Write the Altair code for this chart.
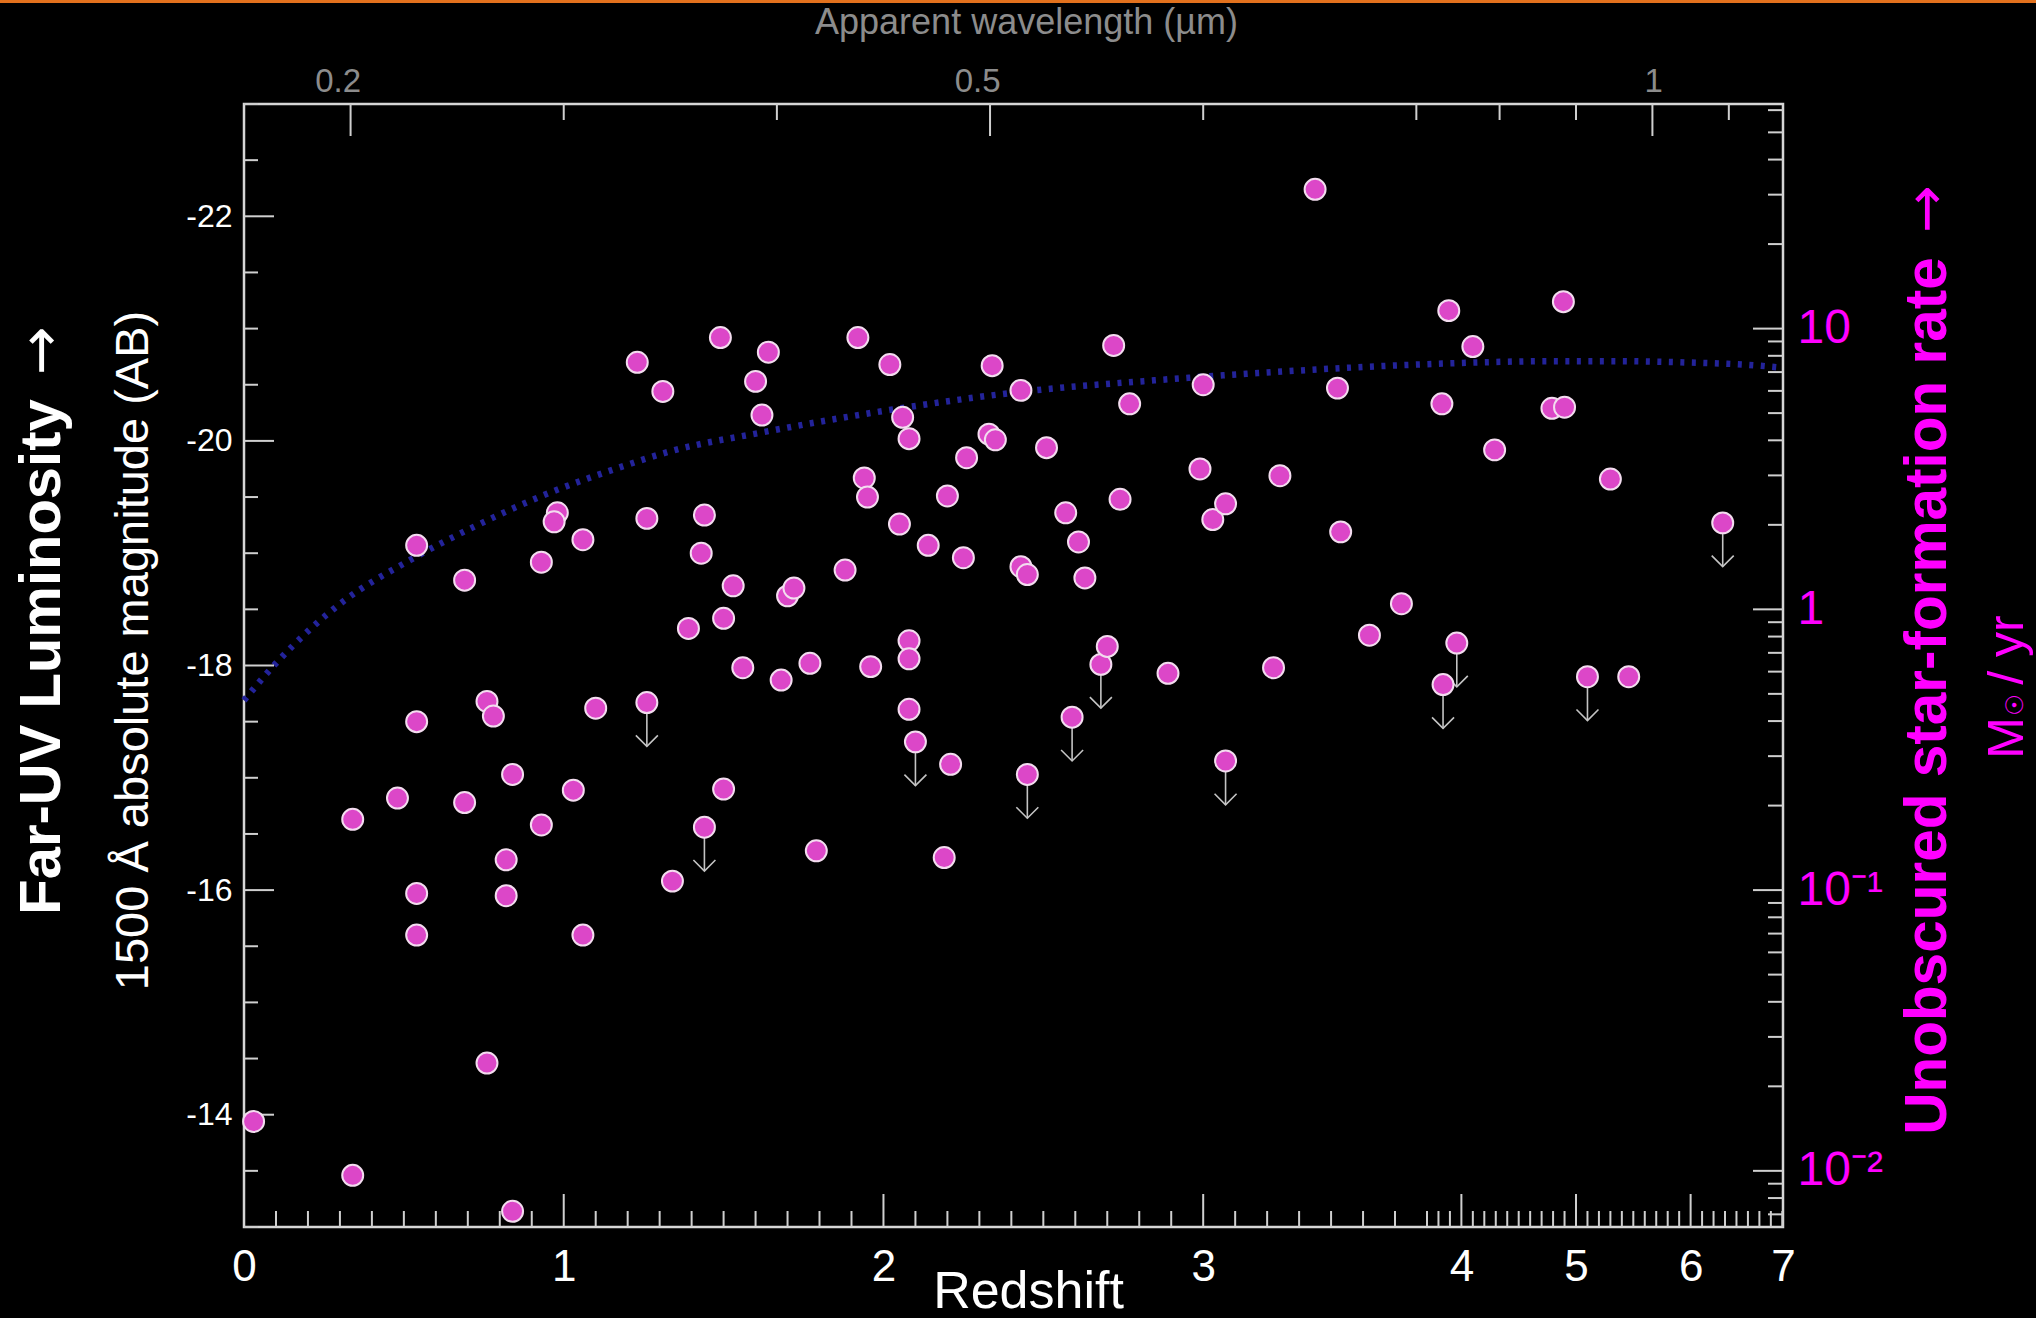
import altair as alt
import pandas as pd
import math

# ---------------- data ----------------
gal_z = [0.03, 0.34, 0.84, 0.34, 0.48, 0.54, 0.54, 0.54, 0.54, 0.69,
         0.69, 0.76, 0.78, 0.76, 0.82, 0.82, 0.84, 0.93, 0.93, 0.98,
         0.97, 1.06, 1.03, 1.06, 1.10, 1.23, 1.31, 1.26, 1.26, 1.34,
         1.39, 1.44, 1.43, 1.44, 1.49, 1.50, 1.50, 1.53, 1.56, 1.60,
         1.64, 1.62, 1.68, 1.70, 1.72, 1.77, 1.79, 1.88, 1.92, 1.94,
         1.95, 1.96, 2.02, 2.06, 2.08, 2.05, 2.08, 2.08, 2.08, 2.10,
         2.14, 2.20, 2.21, 2.19, 2.25, 2.26, 2.33, 2.35, 2.34, 2.43,
         2.43, 2.45, 2.45, 2.51, 2.57, 2.59, 2.61, 2.63, 2.68, 2.70,
         2.72, 2.77, 2.74, 2.89, 2.99, 3.00, 3.03, 3.07, 3.07, 3.22,
         3.24, 3.35, 3.42, 3.43, 3.52, 3.62, 3.83, 3.84, 3.89, 3.96,
         4.10, 4.29, 4.79, 4.89, 4.90, 5.10, 5.30, 5.46, 6.28]
gal_m = [-13.94, -13.46, -13.14, -16.63, -16.82, -17.50, -19.07, -15.97, -15.60, -18.76,
         -16.78, -17.68, -17.55, -14.46, -16.27, -15.95, -17.03, -16.58, -18.92, -19.36,
         -19.28, -19.12, -16.89, -15.60, -17.62, -20.70, -20.44, -19.31, -17.67, -16.08,
         -18.33, -19.34, -19.00, -16.56, -20.92, -18.42, -16.90, -18.71, -17.98, -20.53,
         -20.79, -20.23, -17.87, -18.62, -18.69, -18.02, -16.35, -18.85, -20.92, -19.67,
         -19.50, -17.99, -20.68, -20.21, -20.02, -19.26, -18.22, -18.06, -17.61, -17.32,
         -19.07, -19.51, -17.12, -16.29, -18.96, -19.85, -20.06, -20.01, -20.67, -20.45,
         -18.88, -18.81, -17.03, -19.94, -19.36, -17.54, -19.10, -18.78, -18.01, -18.17,
         -20.85, -20.33, -19.48, -17.93, -19.75, -20.50, -19.30, -19.44, -17.15, -17.98,
         -19.69, -22.24, -20.47, -19.19, -18.27, -18.55, -20.33, -17.83, -21.16, -18.20,
         -20.84, -19.92, -20.29, -21.24, -20.30, -17.90, -19.66, -17.90, -19.27]
gal_limit = [0, 0, 0, 0, 0, 0, 0, 0, 0, 0,
             0, 0, 0, 0, 0, 0, 0, 0, 0, 0,
             0, 0, 0, 0, 0, 0, 0, 0, 1, 0,
             0, 0, 0, 1, 0, 0, 0, 0, 0, 0,
             0, 0, 0, 0, 0, 0, 0, 0, 0, 0,
             0, 0, 0, 0, 0, 0, 0, 0, 0, 1,
             0, 0, 0, 0, 0, 0, 0, 0, 0, 0,
             0, 0, 1, 0, 0, 1, 0, 0, 1, 0,
             0, 0, 0, 0, 0, 0, 0, 0, 1, 0,
             0, 0, 0, 0, 0, 0, 0, 1, 0, 1,
             0, 0, 0, 0, 0, 1, 0, 0, 1]

curve_z = [0.0, 0.10, 0.31, 0.52, 0.73, 0.94, 1.15, 1.35, 1.61, 2.03,
           2.44, 2.85, 3.26, 3.67, 4.19, 4.76, 5.33, 5.91, 6.60, 6.81]
curve_m = [-17.69, -18.02, -18.57, -18.94, -19.25, -19.52, -19.74, -19.92, -20.07, -20.28,
           -20.44, -20.54, -20.62, -20.68, -20.70, -20.71, -20.71, -20.70, -20.67, -20.65]

z_label_pos = [0, 1, 2, 3, 4, 5, 6, 6.806]      # last position is labelled "7"
mag_labels = [-22, -20, -18, -16, -14]
lam_major = [0.2, 0.5, 1.0]
lam_minor = [0.3, 0.4, 0.6, 0.7, 0.8, 0.9, 1.1]
sfr_major = [10, 1, 0.1, 0.01]
sfr_minor_mult = [2, 3, 4, 5, 6, 7, 8, 9]
sfr_minor_exp = [-3, -2, -1, 0, 1]


# ---------------- conversions ----------------
def lam_to_z(l):
    return l / 0.15 - 1.0


def sfr_to_mag(s):
    return -21.0 - 2.5 * math.log10(s / 10.0)


W, H = 1539, 1123
FONT = "Liberation Sans"
TICK = "#cfcfcf"
MAGENTA = "#ff00ff"

xs = alt.Scale(domain=[0, 3.7, 6.806], range=[0, 1183, W], nice=False, zero=False)
ys = alt.Scale(domain=[-13, -23], nice=False, zero=False)

gal = pd.DataFrame({"z": gal_z, "m": gal_m, "lim": gal_limit})
lim = gal[gal["lim"] == 1].copy()
curve = pd.DataFrame({"z": curve_z, "m": curve_m})

z_minor = [round(i / 10, 1) for i in range(1, 69) if i % 10 != 0]
z_major = [1, 2, 3, 4, 5, 6]
mag_minor = [m / 2 for m in range(-46, -25) if m % 4 != 0]
mag_major = mag_labels
sfr_minor = [k * 10 ** e for e in sfr_minor_exp for k in sfr_minor_mult]
sfr_minor_m = [sfr_to_mag(s) for s in sfr_minor if -23 <= sfr_to_mag(s) <= -13]
sfr_major_m = [sfr_to_mag(s) for s in sfr_major]

bottom_axis = alt.Axis(
    orient="bottom", values=z_label_pos,
    labelExpr="datum.value > 6.5 ? '7' : datum.label",
    ticks=False, tickSize=0, domain=False, grid=False,
    labelColor="white", labelFont=FONT, labelFontSize=44, labelPadding=53,
    labelBaseline="alphabetic", labelFlush=False, labelOverlap=False,
    title="Redshift", titleColor="white", titleFont=FONT, titleFontSize=52,
    titleFontWeight="normal", titleX=784, titleY=80, titleAlign="center",
    titleBaseline="alphabetic")

left_axis = alt.Axis(
    orient="left", values=mag_labels,
    labelExpr="'-' + format(-datum.value, 'd')",
    ticks=False, tickSize=0, domain=False, grid=False,
    labelColor="white", labelFont=FONT, labelFontSize=32, labelPadding=12,
    title="1500 Å absolute magnitude (AB)", titleColor="white", titleFont=FONT,
    titleFontSize=47, titleFontWeight="normal", titleAngle=270,
    titleX=-97, titleY=546, titleAlign="center", titleBaseline="alphabetic")

top_axis = alt.Axis(
    orient="top", values=[lam_to_z(l) for l in lam_major],
    labelExpr="format((datum.value + 1) * 0.15, '.1~f')",
    ticks=False, tickSize=0, domain=False, grid=False,
    labelColor="#8c8c8c", labelFont=FONT, labelFontSize=33, labelPadding=13,
    labelBaseline="alphabetic", labelAlign="right", labelOffset=10,
    labelFlush=False, labelOverlap=False,
    title="Apparent wavelength (µm)", titleColor="#8c8c8c", titleFont=FONT,
    titleFontSize=36, titleFontWeight="normal", titleX=782, titleY=-71,
    titleAlign="center", titleBaseline="alphabetic")

right_axis = alt.Axis(
    orient="right", values=sfr_major_m,
    labelExpr="datum.value < -20 ? '10' : datum.value < -17 ? '1' : datum.value < -15 ? '10⁻¹' : '10⁻²'",
    ticks=False, tickSize=0, domain=False, grid=False,
    labelColor=MAGENTA, labelFont=FONT, labelFontSize=48, labelPadding=14,
    labelAlign="left", labelOverlap=False, labelFlush=False,
    title="Unobscured star-formation rate", titleColor=MAGENTA, titleFont=FONT,
    titleFontSize=58.5, titleFontWeight="bold", titleAngle=270,
    titleX=162, titleY=591.5, titleAlign="center", titleBaseline="alphabetic")

one = pd.DataFrame({"a": [1]})

# orange strip at the very top of the picture
orange = alt.Chart(one).mark_rule(color="#e2711d", strokeWidth=3).encode(
    x=alt.value(-244), x2=alt.value(1792), y=alt.value(-102.5))

curve_layer = alt.Chart(curve).mark_line(
    color="#23239a", strokeWidth=6.5, strokeDash=[4, 7.5], interpolate="monotone"
).encode(x=alt.X("z:Q", scale=xs, axis=bottom_axis),
         y=alt.Y("m:Q", scale=ys, axis=left_axis))


def xticks(vals, y0, y1, axis=None):
    return alt.Chart(pd.DataFrame({"z": vals})).mark_rule(color=TICK, strokeWidth=2).encode(
        x=alt.X("z:Q", scale=xs, axis=axis), y=alt.value(y0), y2=alt.value(y1))


def yticks(vals, x0, x1, axis=None):
    return alt.Chart(pd.DataFrame({"m": vals})).mark_rule(color=TICK, strokeWidth=2).encode(
        y=alt.Y("m:Q", scale=ys, axis=axis), x=alt.value(x0), x2=alt.value(x1))


tick_layers = [
    xticks(z_major, H, H - 33),
    xticks(z_minor, H, H - 16),
    xticks([lam_to_z(l) for l in lam_major], 0, 32, top_axis),
    xticks([lam_to_z(l) for l in lam_minor], 0, 16),
    yticks(mag_major, 0, 30),
    yticks(mag_minor, 0, 14),
    yticks(sfr_major_m, W, W - 30, right_axis),
    yticks(sfr_minor_m, W, W - 15),
]

arrow_line = alt.Chart(lim).transform_calculate(tip="datum.m + 0.39").mark_rule(
    color="#c4c4c4", strokeWidth=1.6
).encode(x=alt.X("z:Q", scale=xs, axis=None),
         y=alt.Y("m:Q", scale=ys, axis=None), y2="tip:Q")

arrow_head = alt.Chart(lim).transform_calculate(tip="datum.m + 0.39").mark_point(
    shape="M-1,-1L0,0L1,-1", size=484, filled=False, stroke="#c4c4c4",
    strokeWidth=1.6, opacity=1
).encode(x=alt.X("z:Q", scale=xs, axis=None),
         y=alt.Y("tip:Q", scale=ys, axis=None))

points = alt.Chart(gal).mark_circle(
    size=440, color="#dc47c8", stroke="#f3dcef", strokeWidth=2, opacity=1
).encode(x=alt.X("z:Q", scale=xs, axis=None),
         y=alt.Y("m:Q", scale=ys, axis=None))


def vtext(txt, x, y, size, color, font=FONT, weight="normal"):
    return alt.Chart(one).mark_text(
        text=txt, font=font, fontSize=size, fontWeight=weight, color=color,
        angle=270, align="center", baseline="alphabetic"
    ).encode(x=alt.value(x), y=alt.value(y))


far_uv = vtext("Far-UV Luminosity", -184, 553, 58, "white", weight="bold")
far_uv_arrow = vtext("→", -184, 247, 58, "white", font="DejaVu Sans")
sfr_arrow = vtext("→", 1701, 105, 57, MAGENTA, font="DejaVu Sans")

# "M☉ / yr" with a small subscript sun symbol
unit_m = vtext("M", 1779, 634, 50, MAGENTA)
unit_sun = vtext("☉", 1779, 601, 24, MAGENTA, font="DejaVu Sans")
unit_rest = vtext("/ yr", 1779, 546, 50, MAGENTA)

chart = alt.layer(
    orange, curve_layer, *tick_layers, arrow_line, arrow_head, points,
    far_uv, far_uv_arrow, sfr_arrow, unit_m, unit_sun, unit_rest
).resolve_axis(x="independent", y="independent").properties(
    width=W, height=H,
    autosize=alt.AutoSizeParams(type="none"),
    padding={"left": 244, "top": 104, "right": 253, "bottom": 91},
    background="#000000",
).configure_view(stroke="#d6d6d6", strokeWidth=2.5)

chart.save("out.html", embed_options={"renderer": "svg", "actions": False})
